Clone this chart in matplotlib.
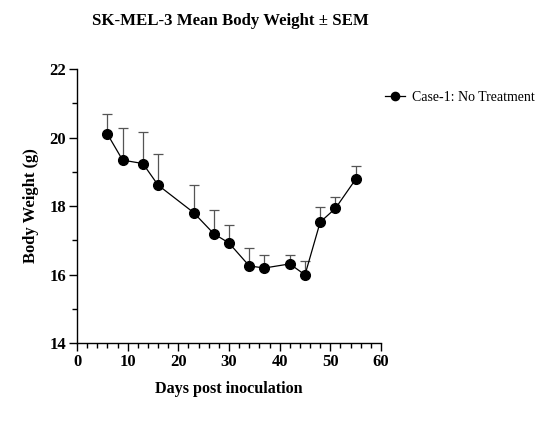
import numpy as np
import matplotlib
matplotlib.use("Agg")
import matplotlib.pyplot as plt
from matplotlib.ticker import MultipleLocator

plt.rcParams["font.family"] = ["Liberation Serif", "DejaVu Serif"]

# 数据：天数、平均体重、SEM
days = [6, 9, 13, 16, 23, 27, 30, 34, 37, 42, 45, 48, 51, 55]
mean_weight = [20.10, 19.34, 19.24, 18.61, 17.81, 17.19, 16.92, 16.25, 16.19, 16.31, 15.99, 17.53, 17.93, 18.78]
sem_weight = [0.58, 0.95, 0.93, 0.92, 0.81, 0.70, 0.52, 0.52, 0.39, 0.25, 0.41, 0.43, 0.32, 0.39]
series_name = "Case-1: No Treatment"

fig = plt.figure(figsize=(5.47, 4.26), dpi=100)
ax = fig.add_axes([0.1408, 0.1948, 0.5557, 0.6432])

zeros = np.zeros(len(sem_weight))
ax.errorbar(days, mean_weight, yerr=[zeros, sem_weight], fmt="none",
            ecolor="#555555", elinewidth=0.9, capsize=3.5, capthick=0.9, zorder=2)
line, = ax.plot(days, mean_weight, color="black", lw=0.9, marker="o", ms=7,
                label=series_name, zorder=3)

ax.set_xlim(0, 60)
ax.set_ylim(14, 22)
ax.xaxis.set_major_locator(MultipleLocator(10))
ax.xaxis.set_minor_locator(MultipleLocator(2))
ax.yaxis.set_major_locator(MultipleLocator(2))
ax.yaxis.set_minor_locator(MultipleLocator(1))
ax.tick_params(which="major", length=6, width=1, direction="out", labelsize=12, pad=2)
ax.tick_params(which="minor", length=3.5, width=1, direction="out")
for lab in ax.get_xticklabels() + ax.get_yticklabels():
    lab.set_fontweight("bold")

ax.spines["top"].set_visible(False)
ax.spines["right"].set_visible(False)
ax.spines["left"].set_linewidth(1)
ax.spines["bottom"].set_linewidth(1)

ax.set_xlabel("Days post inoculation", fontsize=11.6, fontweight="bold", labelpad=8)
ax.set_ylabel("Body Weight (g)", fontsize=12, fontweight="bold", labelpad=7)
fig.text(0.422, 0.951, "SK-MEL-3 Mean Body Weight \u00b1 SEM", ha="center", va="center",
         fontsize=12.1, fontweight="bold")

fig.legend(handles=[line], labels=[series_name], loc="center left",
           bbox_to_anchor=(0.704, 0.772), frameon=False, fontsize=10,
           handlelength=1.45, handletextpad=0.5, borderpad=0, borderaxespad=0,
           markerscale=0.85)

fig.savefig("out.png", dpi=100)
